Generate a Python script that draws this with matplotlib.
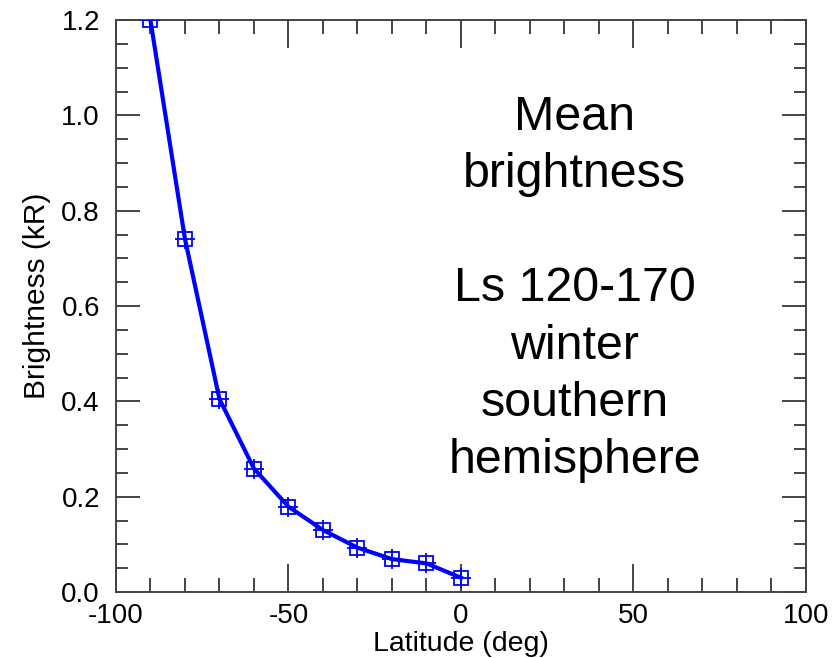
import numpy as np
import matplotlib
matplotlib.use('Agg')
from matplotlib import pyplot as plt

# brillo medio por latitud
latitud = [-90, -80, -70, -60, -50, -40, -30, -20, -10, 0]
brillo = [1.20, 0.741, 0.405, 0.259, 0.179, 0.130, 0.093, 0.069, 0.060, 0.030]

texto = 'Mean\nbrightness\n\nLs 120-170\nwinter\nsouthern\nhemisphere'

plt.rcParams['font.family'] = ['Liberation Sans', 'DejaVu Sans']
plt.rcParams['axes.unicode_minus'] = False

fig = plt.figure(figsize=(8.4, 6.58), dpi=100)
ax = fig.add_axes([0.138, 0.1003, 0.8215, 0.8693])

azul = (0, 0, 1)
ax.plot(latitud, brillo, color=azul, lw=3, zorder=3)
ax.plot(latitud, brillo, ls='none', marker='s', ms=10, mfc='none', mec=azul, mew=1.3, zorder=4)
ax.plot(latitud, brillo, ls='none', marker='+', ms=15, mec=azul, mew=1.3, zorder=4)

ax.set_xlim(-100, 100)
ax.set_ylim(0, 1.2)
ax.set_xticks([-100, -50, 0, 50, 100])
ax.set_xticks(np.arange(-100, 101, 10), minor=True)
ax.set_yticks(np.arange(0, 1.21, 0.2))
ax.set_yticks(np.arange(0, 1.21, 0.05), minor=True)
ax.yaxis.set_major_formatter(matplotlib.ticker.FormatStrFormatter('%.1f'))

gris = '#444444'
for s in ax.spines.values():
    s.set_color(gris)
    s.set_linewidth(1.4)
ax.tick_params(which='both', direction='in', top=True, right=True, color=gris, width=1.4,
               labelsize=20, labelcolor='black')
ax.tick_params(axis='x', which='major', length=20, pad=8)
ax.tick_params(axis='x', which='minor', length=10)
ax.tick_params(axis='y', which='major', length=17, pad=11.5)
ax.tick_params(axis='y', which='minor', length=8.5)

ax.set_xlabel('Latitude (deg)', fontsize=20.5, labelpad=1)
ax.set_ylabel('Brightness (kR)', fontsize=21.5)
ax.yaxis.set_label_coords(-0.094, 0.517)

ax.text(0.665, 0.53, texto, transform=ax.transAxes, ha='center', va='center',
        fontsize=34.8, linespacing=1.35)

fig.savefig('out.png', dpi=100)
